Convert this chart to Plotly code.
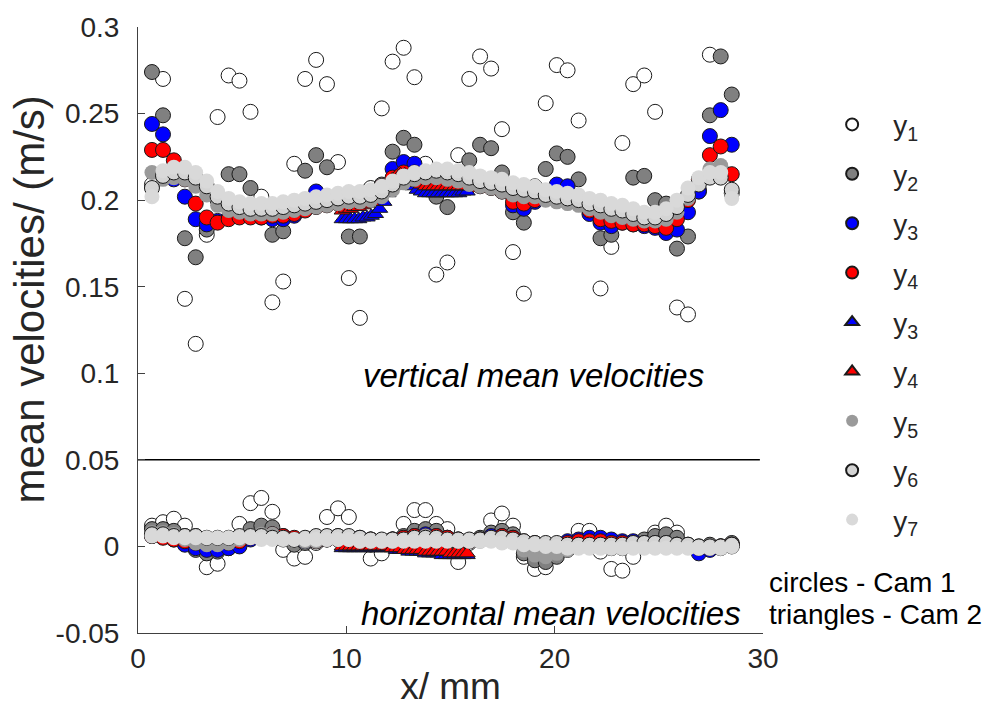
import plotly.graph_objects as go

# Cam 1 sampling positions along the channel (mm)
x_cam1 = [0.67, 1.2, 1.72, 2.25, 2.77, 3.3, 3.82, 4.35, 4.87, 5.4,
          5.92, 6.45, 6.97, 7.5, 8.02, 8.55, 9.07, 9.6, 10.12, 10.65,
          11.17, 11.7, 12.22, 12.75, 13.27, 13.8, 14.32, 14.85, 15.37, 15.9,
          16.42, 16.95, 17.47, 18.0, 18.52, 19.05, 19.57, 20.1, 20.62, 21.15,
          21.67, 22.2, 22.72, 23.25, 23.77, 24.3, 24.82, 25.35, 25.87, 26.4,
          26.92, 27.45, 27.97, 28.5]

# Cam 2 sampling positions (mm)
x_cam2 = [9.8, 10.0, 10.2, 10.4, 10.6, 10.8, 11.0, 11.2, 11.4, 11.6,
          11.8, 12.0, 12.2, 12.4, 12.6, 12.8, 13.0, 13.2, 13.4, 13.6,
          13.8, 14.0, 14.2, 14.4, 14.6, 14.8, 15.0, 15.2, 15.4, 15.6, 15.8]

# vertical mean velocities (m/s), Cam 1
v_y1 = [0.209, 0.270, 0.216, 0.143, 0.117, 0.180, 0.248, 0.272, 0.269, 0.251,
        0.202, 0.141, 0.153, 0.221, 0.270, 0.281, 0.267, 0.222, 0.155, 0.132,
        0.207, 0.253, 0.280, 0.288, 0.271, 0.221, 0.157, 0.164, 0.226, 0.270,
        0.283, 0.276, 0.241, 0.170, 0.146, 0.208, 0.256, 0.278, 0.275, 0.246,
        0.200, 0.149, 0.173, 0.233, 0.267, 0.272, 0.251, 0.195, 0.138, 0.134,
        0.205, 0.284, 0.218, 0.204]
v_y2 = [0.274, 0.249, 0.214, 0.178, 0.167, 0.183, 0.200, 0.215, 0.215, 0.207,
        0.196, 0.180, 0.182, 0.197, 0.217, 0.226, 0.219, 0.199, 0.179, 0.179,
        0.203, 0.209, 0.228, 0.236, 0.232, 0.216, 0.202, 0.196, 0.212, 0.223,
        0.232, 0.230, 0.216, 0.193, 0.187, 0.205, 0.218, 0.227, 0.225, 0.212,
        0.196, 0.178, 0.180, 0.192, 0.213, 0.214, 0.200, 0.198, 0.172, 0.179,
        0.206, 0.249, 0.283, 0.261]
v_y3 = [0.244, 0.238, 0.212, 0.202, 0.189, 0.186, 0.188, 0.190, 0.191, 0.191,
        0.190, 0.189, 0.189, 0.191, 0.196, 0.205, 0.199, 0.199, 0.200, 0.200,
        0.202, 0.208, 0.218, 0.222, 0.221, 0.215, 0.214, 0.213, 0.212, 0.211,
        0.210, 0.209, 0.205, 0.197, 0.195, 0.199, 0.204, 0.209, 0.208, 0.201,
        0.192, 0.187, 0.185, 0.187, 0.186, 0.185, 0.184, 0.181, 0.183, 0.193,
        0.205, 0.237, 0.252, 0.232]
v_y4 = [0.229, 0.229, 0.223, 0.212, 0.198, 0.190, 0.187, 0.189, 0.190, 0.190,
        0.190, 0.191, 0.191, 0.192, 0.194, 0.196, 0.197, 0.198, 0.199, 0.200,
        0.203, 0.208, 0.213, 0.216, 0.216, 0.215, 0.213, 0.211, 0.209, 0.208,
        0.208, 0.207, 0.205, 0.199, 0.198, 0.200, 0.203, 0.204, 0.203, 0.198,
        0.194, 0.189, 0.188, 0.187, 0.186, 0.186, 0.185, 0.184, 0.189, 0.200,
        0.212, 0.226, 0.231, 0.215]
v_y5 = [0.216, 0.212, 0.213, 0.212, 0.208, 0.203, 0.197, 0.194, 0.193, 0.192,
        0.192, 0.192, 0.193, 0.194, 0.195, 0.196, 0.197, 0.198, 0.199, 0.199,
        0.200, 0.202, 0.206, 0.210, 0.212, 0.213, 0.213, 0.212, 0.211, 0.209,
        0.208, 0.207, 0.205, 0.203, 0.202, 0.202, 0.200, 0.199, 0.198, 0.197,
        0.195, 0.193, 0.191, 0.190, 0.189, 0.188, 0.188, 0.189, 0.193, 0.201,
        0.209, 0.218, 0.220, 0.203]
v_y6 = [0.207, 0.214, 0.216, 0.216, 0.213, 0.208, 0.202, 0.198, 0.196, 0.195,
        0.195, 0.195, 0.196, 0.197, 0.198, 0.199, 0.200, 0.201, 0.202, 0.202,
        0.203, 0.205, 0.209, 0.213, 0.215, 0.216, 0.217, 0.216, 0.215, 0.213,
        0.211, 0.210, 0.209, 0.207, 0.206, 0.205, 0.203, 0.202, 0.201, 0.200,
        0.198, 0.197, 0.195, 0.194, 0.192, 0.190, 0.190, 0.192, 0.196, 0.203,
        0.209, 0.213, 0.213, 0.206]
v_y7 = [0.202, 0.217, 0.219, 0.219, 0.216, 0.211, 0.205, 0.201, 0.199, 0.198,
        0.198, 0.198, 0.199, 0.200, 0.201, 0.202, 0.203, 0.204, 0.205, 0.205,
        0.206, 0.208, 0.211, 0.214, 0.216, 0.217, 0.218, 0.218, 0.217, 0.216,
        0.214, 0.213, 0.212, 0.210, 0.209, 0.208, 0.206, 0.205, 0.204, 0.203,
        0.201, 0.200, 0.198, 0.197, 0.195, 0.193, 0.193, 0.195, 0.200, 0.207,
        0.213, 0.216, 0.216, 0.201]

# horizontal mean velocities (m/s), Cam 1
h_y1 = [0.012, 0.014, 0.016, 0.012, 0.006, -0.012, -0.010, 0.004, 0.013, 0.025,
        0.028, 0.020, -0.002, -0.007, -0.006, 0.002, 0.017, 0.022, 0.017, 0.002,
        -0.007, -0.004, 0.004, 0.013, 0.021, 0.021, 0.013, 0.010, -0.009, 0.002,
        0.004, 0.015, 0.019, 0.012, -0.006, -0.013, -0.012, -0.001, 0.002, 0.009,
        0.009, -0.003, -0.013, -0.014, -0.006, 0.001, 0.008, 0.012, 0.008, 0.000,
        -0.001, 0.000, -0.001, 0.000]
h_y2 = [0.010, 0.010, 0.009, 0.006, -0.002, -0.004, -0.003, -0.001, 0.004, 0.010,
        0.012, 0.011, 0.004, 0.001, 0.002, 0.003, 0.005, 0.006, 0.005, 0.003,
        0.001, 0.002, 0.003, 0.006, 0.009, 0.010, 0.009, 0.005, 0.002, 0.003,
        0.005, 0.008, 0.009, 0.007, -0.004, -0.008, -0.009, -0.006, -0.002, 0.001,
        0.002, 0.001, -0.001, -0.001, 0.002, 0.004, 0.006, 0.007, 0.005, 0.001,
        0.000, 0.001, 0.000, 0.002]
h_y3 = [0.006, 0.006, 0.004, 0.001, -0.001, -0.002, -0.002, -0.001, 0.000, 0.004,
        0.006, 0.007, 0.006, 0.004, 0.003, 0.003, 0.004, 0.004, 0.004, 0.005,
        0.004, 0.003, 0.004, 0.005, 0.006, 0.007, 0.006, 0.005, 0.004, 0.003,
        0.004, 0.006, 0.006, 0.005, 0.002, 0.000, -0.001, 0.000, 0.003, 0.004,
        0.005, 0.005, 0.004, 0.003, 0.003, 0.002, 0.002, 0.002, 0.001, 0.000,
        -0.004, -0.002, 0.000, 0.001]
h_y4 = [0.006, 0.005, 0.004, 0.003, 0.002, 0.002, 0.002, 0.002, 0.003, 0.005,
        0.006, 0.007, 0.006, 0.005, 0.004, 0.003, 0.004, 0.004, 0.004, 0.004,
        0.004, 0.003, 0.004, 0.005, 0.006, 0.006, 0.006, 0.005, 0.004, 0.003,
        0.004, 0.005, 0.006, 0.005, 0.003, 0.002, 0.001, 0.001, 0.002, 0.003,
        0.003, 0.003, 0.002, 0.002, 0.002, 0.001, 0.001, 0.001, 0.001, 0.000,
        -0.001, -0.001, 0.000, 0.001]
h_y5 = [0.008, 0.008, 0.007, 0.004, 0.002, 0.001, 0.001, 0.002, 0.004, 0.006,
        0.007, 0.007, 0.005, 0.004, 0.003, 0.003, 0.004, 0.004, 0.004, 0.003,
        0.003, 0.003, 0.003, 0.004, 0.005, 0.006, 0.005, 0.004, 0.003, 0.003,
        0.003, 0.004, 0.004, 0.003, -0.002, -0.005, -0.006, -0.004, -0.002, 0.000,
        0.000, 0.000, -0.001, -0.001, 0.000, 0.001, 0.002, 0.002, 0.001, 0.000,
        -0.001, -0.001, -0.001, 0.000]
h_y6 = [0.007, 0.007, 0.006, 0.006, 0.006, 0.005, 0.005, 0.005, 0.006, 0.006,
        0.006, 0.005, 0.005, 0.004, 0.005, 0.006, 0.006, 0.006, 0.006, 0.005,
        0.004, 0.004, 0.004, 0.004, 0.005, 0.005, 0.005, 0.004, 0.004, 0.004,
        0.004, 0.005, 0.005, 0.004, 0.003, 0.002, 0.002, 0.002, 0.001, 0.001,
        0.001, 0.001, 0.001, 0.001, 0.002, 0.002, 0.002, 0.002, 0.001, 0.001,
        0.000, 0.000, 0.000, 0.001]
h_y7 = [0.006, 0.006, 0.005, 0.005, 0.005, 0.005, 0.005, 0.005, 0.005, 0.005,
        0.004, 0.004, 0.004, 0.004, 0.004, 0.004, 0.004, 0.004, 0.004, 0.003,
        0.003, 0.003, 0.003, 0.003, 0.003, 0.003, 0.003, 0.003, 0.003, 0.003,
        0.003, 0.003, 0.002, 0.002, 0.001, 0.001, 0.000, 0.000, -0.001, -0.001,
        -0.001, -0.001, -0.001, -0.001, -0.001, -0.001, -0.001, -0.001, -0.001, -0.001,
        -0.001, -0.001, -0.001, 0.000]

# Cam 2 (triangles)
v_y3_cam2 = [0.189, 0.189, 0.189, 0.189, 0.189, 0.190, 0.190, 0.191, 0.192, 0.195,
             0.199, 0.204, 0.208, 0.211, 0.213, 0.213, 0.211, 0.208, 0.206, 0.205,
             0.204, 0.204, 0.204, 0.204, 0.204, 0.204, 0.204, 0.204, 0.204, 0.205, 0.205]
v_y4_cam2 = [0.194, 0.195, 0.195, 0.196, 0.196, 0.197, 0.198, 0.199, 0.201, 0.203,
             0.206, 0.209, 0.212, 0.214, 0.215, 0.215, 0.214, 0.212, 0.210, 0.209,
             0.208, 0.208, 0.208, 0.208, 0.208, 0.208, 0.208, 0.208, 0.208, 0.208, 0.208]
h_y3_cam2 = [-0.001, -0.001, -0.001, -0.001, -0.001, -0.001, -0.001, -0.001, -0.001, -0.001,
             -0.001, -0.001, -0.001, -0.002, -0.002, -0.002, -0.003, -0.003, -0.003, -0.003,
             -0.004, -0.004, -0.004, -0.004, -0.005, -0.005, -0.005, -0.005, -0.005, -0.005, -0.005]
h_y4_cam2 = [0.000, 0.000, 0.000, 0.000, 0.000, 0.000, 0.000, 0.000, 0.000, 0.000,
             0.000, 0.000, -0.001, -0.001, -0.001, -0.002, -0.002, -0.002, -0.002, -0.002,
             -0.003, -0.003, -0.003, -0.003, -0.003, -0.003, -0.004, -0.004, -0.004, -0.004, -0.004]

separator_level = 0.05
x_ticks = [0, 10, 20, 30]
y_ticks = [-0.05, 0, 0.05, 0.1, 0.15, 0.2, 0.25, 0.3]
y_tick_text = ["-0.05", "0", "0.05", "0.1", "0.15", "0.2", "0.25", "0.3"]

FONT = "Liberation Sans, Arial, Helvetica, sans-serif"
EDGE = "#1a1a1a"
TEXT = "#262626"

series = [
    # name, x, vertical, horizontal, symbol, fill, edge width
    ("y<sub>1</sub>", x_cam1, v_y1, h_y1, "circle", "#ffffff", 1),
    ("y<sub>2</sub>", x_cam1, v_y2, h_y2, "circle", "#808080", 1),
    ("y<sub>3</sub>", x_cam1, v_y3, h_y3, "circle", "#0000ff", 1),
    ("y<sub>4</sub>", x_cam1, v_y4, h_y4, "circle", "#ff0000", 1),
    ("y<sub>3</sub>", x_cam2, v_y3_cam2, h_y3_cam2, "triangle-up", "#0000ff", 1),
    ("y<sub>4</sub>", x_cam2, v_y4_cam2, h_y4_cam2, "triangle-up", "#ff0000", 1),
    ("y<sub>5</sub>", x_cam1, v_y5, h_y5, "circle", "#9a9a9a", 0),
    ("y<sub>6</sub>", x_cam1, v_y6, h_y6, "circle", "#d4d4d4", 1),
    ("y<sub>7</sub>", x_cam1, v_y7, h_y7, "circle", "#d9d9d9", 0),
]

fig = go.Figure()

for k, (name, xs, vert, horiz, sym, fill, lw) in enumerate(series):
    marker = dict(symbol=sym, size=15 if sym == "circle" else 14, color=fill,
                  line=dict(color=EDGE, width=lw))
    group = f"g{k}"
    fig.add_trace(go.Scatter(x=xs, y=vert, mode="markers", name=name,
                             legendgroup=group, marker=marker))
    fig.add_trace(go.Scatter(x=xs, y=horiz, mode="markers", name=name,
                             legendgroup=group, showlegend=False, marker=marker))

# divider between the vertical and horizontal velocity bands
fig.add_trace(go.Scatter(x=[0, 29.85], y=[separator_level, separator_level],
                         mode="lines", line=dict(color="black", width=1.5),
                         showlegend=False, hoverinfo="skip"))

fig.add_annotation(x=10.7, y=0.0985, xref="x", yref="y", xanchor="left",
                   yanchor="middle", showarrow=False,
                   text="<i>vertical mean velocities</i>",
                   font=dict(family=FONT, size=33, color="black"))
fig.add_annotation(x=10.6, y=-0.039, xref="x", yref="y", xanchor="left",
                   yanchor="middle", showarrow=False,
                   text="<i>horizontal mean velocities</i>",
                   font=dict(family=FONT, size=33, color="black"))
fig.add_annotation(x=1.006, y=0.084, xref="paper", yref="paper", xanchor="left",
                   yanchor="middle", showarrow=False, text="circles - Cam 1",
                   font=dict(family=FONT, size=28, color="black"))
fig.add_annotation(x=1.006, y=0.031, xref="paper", yref="paper", xanchor="left",
                   yanchor="middle", showarrow=False, text="triangles - Cam 2",
                   font=dict(family=FONT, size=28, color="black"))

# y-axis title, placed as rotated text
fig.add_annotation(x=-0.173, y=0.55, xref="paper", yref="paper", xanchor="center",
                   yanchor="middle", showarrow=False, textangle=-90,
                   text="mean velocities/ (m/s)",
                   font=dict(family=FONT, size=42, color=TEXT))

fig.update_layout(
    width=989, height=725,
    margin=dict(l=138, r=226, t=25, b=92),
    paper_bgcolor="white", plot_bgcolor="white",
    font=dict(family=FONT, color=TEXT),
    legend=dict(x=1.077, y=0.88, xanchor="left", yanchor="top",
                font=dict(family=FONT, size=28, color=TEXT),
                itemsizing="constant", itemwidth=72, tracegroupgap=10,
                bgcolor="rgba(0,0,0,0)"),
    xaxis=dict(range=[0, 30], tickvals=x_ticks, ticks="inside", ticklen=7,
               tickcolor="#404040", showline=True, linecolor="#404040", linewidth=1,
               showgrid=False, zeroline=False,
               tickfont=dict(family=FONT, size=28, color=TEXT),
               title=dict(text="x/ mm", font=dict(family=FONT, size=37, color=TEXT),
                          standoff=0)),
    yaxis=dict(range=[-0.05, 0.3], tickvals=y_ticks, ticktext=y_tick_text,
               ticks="inside", ticklen=7, tickcolor="#404040",
               showline=True, linecolor="#404040", linewidth=1,
               showgrid=False, zeroline=False, ticklabelstandoff=12,
               tickfont=dict(family=FONT, size=28, color=TEXT)),
)

fig.write_html("out.html")
